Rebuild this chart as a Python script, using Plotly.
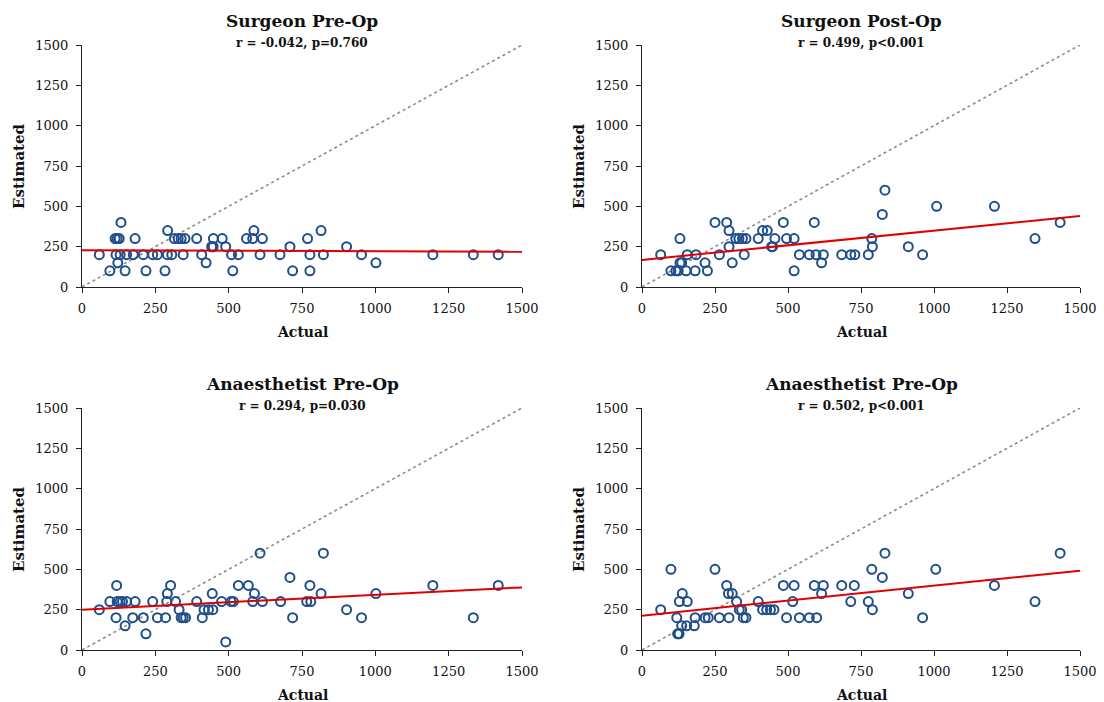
import plotly.graph_objects as go

W, H = 1104, 702
OFF = 8  # page body offset of the rendered figure

# ---------------- data ----------------
titles = ["Surgeon Pre-Op", "Surgeon Post-Op", "Anaesthetist Pre-Op", "Anaesthetist Pre-Op"]
subtitles = ["r = -0.042, p=0.760", "r = 0.499, p<0.001", "r = 0.294, p=0.030", "r = 0.502, p<0.001"]

s_pre_x = [59, 116, 130, 152, 175, 209, 241, 257, 291, 306, 345, 408, 510, 533, 607, 675, 777, 823, 953, 1196, 1334, 1419,
           95, 147, 218, 283, 514, 718, 777,
           122, 423, 1002,
           442, 447, 490, 709, 902, 445,
           113, 120, 127, 181, 315, 328, 338, 351, 391, 448, 478, 561, 582, 615, 769,
           292, 586, 815,
           133]
s_pre_y = [200] * 22 + [100] * 7 + [150] * 3 + [250] * 6 + [300] * 15 + [350] * 3 + [400]

s_post_x = [64, 155, 185, 265, 350, 539, 573, 596, 621, 684, 715, 729, 775, 961,
            99, 116, 124, 151, 182, 224, 521,
            130, 136, 216, 309, 615,
            298, 444, 447, 912, 789,
            130, 321, 332, 344, 356, 398, 455, 495, 521, 787, 1346,
            298, 413, 429,
            250, 290, 484, 590, 1432,
            823,
            1009, 1207,
            832]
s_post_y = ([200] * 14 + [100] * 7 + [150] * 5 + [250] * 5 + [300] * 11 + [350] * 3 + [400] * 5
            + [450] + [500] * 2 + [600])

a_pre_x = [59, 331, 416, 431, 446, 902,
           95, 120, 130, 138, 152, 181, 241, 289, 319, 391, 476, 508, 516, 582, 615, 677, 766, 780,
           116, 173, 209, 257, 285, 338, 345, 353, 410, 718, 953, 1334,
           147,
           218,
           490,
           291, 444, 588, 815, 1002,
           118, 302, 533, 567, 777, 1196, 1419,
           709,
           607, 823]
a_pre_y = ([250] * 6 + [300] * 18 + [200] * 12 + [150] + [100] + [50] + [350] * 5 + [400] * 7
           + [450] + [600] * 2)

a_pre2_x = [64, 333, 341, 413, 427, 440, 452, 789,
            119, 182, 216, 227, 265, 298, 347, 356, 495, 539, 573, 598, 961,
            136, 153, 179,
            122, 127,
            128, 155, 324, 398, 516, 715, 775, 1346,
            138, 296, 309, 615, 912,
            290, 484, 521, 590, 621, 684, 727, 1207,
            823,
            99, 250, 787, 1006,
            832, 1432]
a_pre2_y = ([250] * 8 + [200] * 13 + [150] * 3 + [100] * 2 + [300] * 8 + [350] * 5 + [400] * 8
            + [450] + [500] * 4 + [600] * 2)

trend_x = [0, 1500]
trend_y = [[228, 218], [168, 440], [250, 388], [213, 492]]

identity = [0, 1500]
ticks = [0, 250, 500, 750, 1000, 1250, 1500]

panels_x = [s_pre_x, s_post_x, a_pre_x, a_pre2_x]
panels_y = [s_pre_y, s_post_y, a_pre_y, a_pre2_y]

# ---------------- layout geometry (target screen pixels) ----------------
plot_px = [(82, 522, 45, 287), (642, 1080, 45, 287), (82, 522, 408, 650), (642, 1080, 408, 650)]

FONT = "DejaVu Serif"
BLUE = "#1F4E8C"
RED = "#E00000"


def px(v):
    return (v - OFF) / W


def py(v):
    return 1 - (v - OFF) / H


fig = go.Figure()
annotations = []
layout_axes = {}
for i in range(4):
    x0, x1, y0, y1 = plot_px[i]
    xa = "x" if i == 0 else f"x{i+1}"
    ya = "y" if i == 0 else f"y{i+1}"
    fig.add_trace(go.Scatter(x=identity, y=identity, mode="lines", xaxis=xa, yaxis=ya,
                             line=dict(color="#8C8C8C", width=1.6, dash="dot"),
                             showlegend=False, hoverinfo="skip"))
    fig.add_trace(go.Scatter(x=panels_x[i], y=panels_y[i], mode="markers", xaxis=xa, yaxis=ya,
                             marker=dict(symbol="circle-open", size=9, color=BLUE,
                                         line=dict(width=2, color=BLUE)),
                             showlegend=False, cliponaxis=False))
    fig.add_trace(go.Scatter(x=trend_x, y=trend_y[i], mode="lines", xaxis=xa, yaxis=ya,
                             line=dict(color=RED, width=2), showlegend=False))
    axcommon = dict(range=[0, 1500], tickvals=ticks, showgrid=False, zeroline=False,
                    showline=True, linecolor="#222222", linewidth=1.3, automargin=False,
                    ticks="outside", ticklen=5, tickcolor="#222222", tickwidth=1.3,
                    tickfont=dict(family=FONT, size=13, color="#111111"))
    kx = "xaxis" if i == 0 else f"xaxis{i+1}"
    ky = "yaxis" if i == 0 else f"yaxis{i+1}"
    layout_axes[kx] = dict(axcommon, domain=[px(x0), px(x1)], anchor=ya, ticklabelstandoff=4)
    layout_axes[ky] = dict(axcommon, domain=[py(y1), py(y0)], anchor=xa, ticklabelstandoff=5)

    cx = px((x0 + x1) / 2)
    annotations.append(dict(text=f"<b>{titles[i]}</b>", x=cx, y=py(y0 - 24), xref="paper", yref="paper",
                            showarrow=False, font=dict(family=FONT, size=17, color="#111111"),
                            xanchor="center", yanchor="middle"))
    annotations.append(dict(text=f"<b>{subtitles[i]}</b>", x=cx, y=py(y0 - 2), xref="paper", yref="paper",
                            showarrow=False, font=dict(family=FONT, size=12, color="#111111"),
                            xanchor="center", yanchor="middle"))
    annotations.append(dict(text="<b>Actual</b>", x=cx, y=py(y1 + 45), xref="paper", yref="paper",
                            showarrow=False, font=dict(family=FONT, size=14, color="#111111"),
                            xanchor="center", yanchor="middle"))
    annotations.append(dict(text="<b>Estimated</b>", x=px(x0 - 63), y=py((y0 + y1) / 2),
                            xref="paper", yref="paper", textangle=-90,
                            showarrow=False, font=dict(family=FONT, size=15, color="#111111"),
                            xanchor="center", yanchor="middle"))

fig.update_layout(width=W, height=H, margin=dict(l=0, r=0, t=0, b=0, pad=0),
                  paper_bgcolor="white", plot_bgcolor="white",
                  annotations=annotations, **layout_axes)

fig.write_html("out.html")
